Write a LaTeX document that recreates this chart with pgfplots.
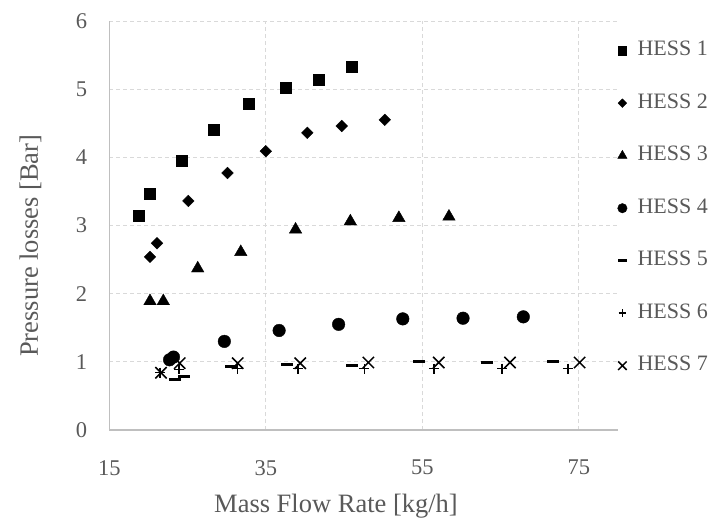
\documentclass[border=0pt]{standalone}
\usepackage{pgfplots}
\pgfplotsset{compat=1.18}
\usepackage{fontspec}
\setmainfont{Liberation Serif}
\definecolor{txt}{HTML}{595959}
\definecolor{grd}{HTML}{D9D9D9}
\definecolor{axl}{HTML}{BFBFBF}
\begin{document}
\begin{tikzpicture}
\useasboundingbox (-109.3pt,-95pt) rectangle (613.7pt,430pt);
\begin{axis}[
  at={(0pt,0pt)}, anchor=south west,
  scale only axis, width=508.7pt, height=409pt,
  xmin=15, xmax=80, ymin=0, ymax=6,
  xtick={15,35,55,75}, ytick={0,1,2,3,4,5,6},
  axis lines*=left,
  axis line style={color=axl, line width=1.2pt},
  major tick length=0pt,
  xmajorgrids, ymajorgrids,
  grid style={color=grd, line width=1pt, dash pattern=on 4pt off 3pt},
  /pgf/number format/assume math mode=true,
  ticklabel style={font=\fontsize{22.5}{26}\selectfont, text=txt},
  xticklabel style={anchor=north, inner sep=0pt, yshift=-30pt},
  yticklabel style={anchor=east, inner sep=0pt, xshift=-22pt},
  xlabel={Mass Flow Rate [kg/h]},
  ylabel={Pressure losses [Bar]},
  xlabel style={at={(axis description cs:0.4457,-0.2022)}, anchor=base, font=\fontsize{26.5}{30}\selectfont, text=txt},
  ylabel style={at={(axis description cs:-0.1402,0.4506)}, anchor=base, rotate=0, font=\fontsize{26.5}{30}\selectfont, text=txt},
  legend style={at={(axis description cs:1,1)}, anchor=north west, xshift=-1pt, yshift=-19.5pt,
    draw=none, fill=none, inner sep=0pt, row sep=32.5pt, column sep=10pt,
    font=\fontsize{22}{26}\selectfont, text=txt,
    nodes={inner sep=0pt, text height=15pt, text depth=5pt}},
  legend cell align=left,
  legend image code/.code={\path (-5pt,0pt) (5pt,0pt); \draw[#1, every mark/.append style={scale=0.75}] plot coordinates {(0pt,0pt)};},
  every axis plot/.append style={only marks, black},
]
\addplot[mark=square*, mark size=5.5pt] coordinates {(18.8,3.15)(20.1,3.46)(24.2,3.95)(28.3,4.41)(32.75,4.79)(37.5,5.02)(41.7,5.14)(46.0,5.33)};
\addlegendentry{HESS 1}
\addplot[mark=square*, mark size=4.1pt, mark options={rotate=45}] coordinates {(20.2,2.54)(21.1,2.74)(25.1,3.36)(30.1,3.77)(35.0,4.09)(40.3,4.36)(44.7,4.46)(50.2,4.55)};
\addlegendentry{HESS 2}
\addplot[mark=triangle*, mark size=7.2pt] coordinates {(20.2,1.89)(21.9,1.89)(26.3,2.37)(31.8,2.61)(38.8,2.94)(45.8,3.06)(52.0,3.11)(58.4,3.13)};
\addlegendentry{HESS 3}
\addplot[mark=*, mark size=6.3pt] coordinates {(22.7,1.03)(23.2,1.07)(29.7,1.30)(36.7,1.46)(44.3,1.55)(52.5,1.63)(60.2,1.64)(67.9,1.66)};
\addlegendentry{HESS 4}
\addplot[mark=-, mark size=6pt, mark options={line width=3pt}] coordinates {(23.4,0.74)(24.5,0.78)(30.6,0.93)(37.7,0.96)(46.0,0.95)(54.6,1.00)(63.2,0.99)(71.7,1.00)};
\addlegendentry{HESS 5}
\addplot[mark=+, mark size=5pt, mark options={line width=1.5pt}] coordinates {(21.5,0.84)(23.9,0.89)(31.4,0.90)(39.1,0.90)(47.6,0.90)(56.5,0.90)(65.2,0.90)(73.6,0.90)};
\addlegendentry{HESS 6}
\addplot[mark=x, mark size=8pt, mark options={line width=1.5pt}] coordinates {(21.6,0.84)(24.0,0.98)(31.4,0.98)(39.4,0.98)(48.1,0.99)(57.1,0.99)(66.2,0.99)(75.1,0.99)};
\addlegendentry{HESS 7}
\end{axis}
\end{tikzpicture}
\end{document}
